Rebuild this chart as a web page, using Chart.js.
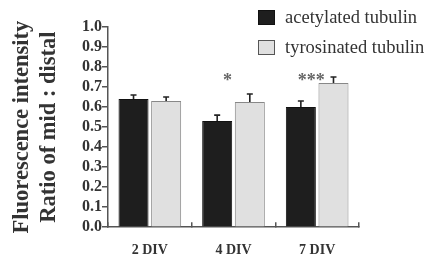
<!DOCTYPE html>
<html>
<head>
<meta charset="utf-8">
<script src="https://cdn.jsdelivr.net/npm/chart.js@4.4.0/dist/chart.umd.min.js"></script>
<style>
  html, body { margin: 0; padding: 0; background: #fff; }
  #wrap { position: relative; width: 430px; height: 264px; }
  #legend { position: absolute; left: 258px; top: 5px; font-family: "Liberation Serif", serif; font-size: 18.5px; color: #333; }
  #legend .row { display: flex; align-items: center; height: 24px; margin-bottom: 6px; }
  #legend .box { width: 17px; height: 15px; margin-right: 10px; box-sizing: border-box; }
</style>
</head>
<body>
<div id="wrap">
  <canvas id="c" width="430" height="264"></canvas>
  <div id="legend"></div>
</div>
<script>
/* ─── datos ─── */
const CATEGORIES = ['2 DIV', '4 DIV', '7 DIV'];
const SERIES = ['acetylated tubulin', 'tyrosinated tubulin'];
const ACETYLATED = [0.64, 0.53, 0.60];
const TYROSINATED = [0.63, 0.625, 0.72];
const ACETYLATED_ERR = [0.02, 0.03, 0.03];
const TYROSINATED_ERR = [0.02, 0.04, 0.03];
const STARS = ['', '*', '***'];
const STAR_LEVEL = 0.75;
const Y_TICKS = [0, 0.1, 0.2, 0.3, 0.4, 0.5, 0.6, 0.7, 0.8, 0.9, 1.0];

const FILL = ['#1e1e1e', '#e0e0e0'];
const EDGE = ['#111', '#888'];
const SERIF = '"Liberation Serif", "Times New Roman", serif';

/* ─── leyenda HTML ─── */
document.getElementById('legend').innerHTML = SERIES.map((s, i) => `
  <div class="row">
    <span class="box" style="background:${FILL[i]};border:1px solid ${i ? '#555' : '#111'}"></span>
    <span>${s}</span>
  </div>`).join('');

/* ─── barras de error y asteriscos ─── */
const errorBars = {
  id: 'errorBars',
  afterDatasetsDraw(chart) {
    const ctx = chart.ctx;
    const y = chart.scales.y;
    const errs = [ACETYLATED_ERR, TYROSINATED_ERR];
    ctx.save();
    ctx.strokeStyle = '#222';
    ctx.lineWidth = 1.6;
    chart.data.datasets.forEach((ds, di) => {
      chart.getDatasetMeta(di).data.forEach((bar, i) => {
        const top = y.getPixelForValue(ds.data[i] + errs[di][i]);
        ctx.beginPath();
        ctx.moveTo(bar.x, bar.y);
        ctx.lineTo(bar.x, top);
        ctx.moveTo(bar.x - 3, top);
        ctx.lineTo(bar.x + 3, top);
        ctx.stroke();
      });
    });
    // asteriscos de significancia
    ctx.fillStyle = '#666';
    ctx.font = `bold 18px ${SERIF}`;
    ctx.textAlign = 'center';
    ctx.textBaseline = 'middle';
    STARS.forEach((s, i) => {
      if (!s) return;
      const x = chart.scales.x.getPixelForValue(i) - 6;
      ctx.fillText(s, x, y.getPixelForValue(STAR_LEVEL) + 4);
    });
    ctx.restore();
  },
};

new Chart(document.getElementById('c'), {
  type: 'bar',
  data: {
    labels: CATEGORIES,
    datasets: [ACETYLATED, TYROSINATED].map((d, i) => ({
      label: SERIES[i],
      data: d,
      backgroundColor: FILL[i],
      borderColor: EDGE[i],
      borderWidth: 1,
      barPercentage: 0.92,
      categoryPercentage: 0.78,
    })),
  },
  options: {
    responsive: false,
    animation: false,
    devicePixelRatio: 1,
    layout: { padding: { left: 9, right: 71, top: 27, bottom: -15 } },
    plugins: {
      legend: { display: false },
      tooltip: { enabled: false },
    },
    scales: {
      x: {
        grid: { drawOnChartArea: false, tickLength: -5, color: '#555', lineWidth: 1.5 },
        border: { color: '#555', width: 1.5 },
        ticks: { color: '#333', font: { family: SERIF, size: 14, weight: 'bold' }, padding: 20 },
      },
      y: {
        min: 0,
        max: 1,
        afterBuildTicks: axis => { axis.ticks = Y_TICKS.map(v => ({ value: v })); },
        grid: { drawOnChartArea: false, tickLength: 6, color: '#555', lineWidth: 1.5 },
        border: { color: '#555', width: 1.5 },
        ticks: {
          autoSkip: false,
          color: '#333',
          padding: 0,
          font: { family: SERIF, size: 16, weight: 'bold' },
          callback: v => v.toFixed(1),
        },
        title: {
          display: true,
          text: ['Fluorescence intensity', 'Ratio of mid : distal'],
          color: '#333',
          font: { family: SERIF, size: 22.5, weight: 'bold', lineHeight: 1.2 },
          padding: { top: 0, bottom: 19 },
        },
      },
    },
  },
  plugins: [errorBars],
});
</script>
</body>
</html>
